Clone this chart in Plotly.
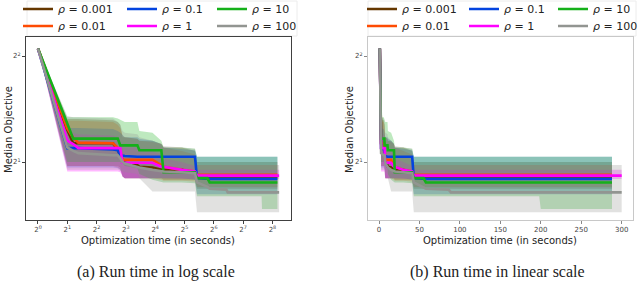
import plotly.graph_objects as go

# ---------------- data ----------------
T = [1, 2, 2.3, 2.6, 5.9, 6.6, 7.0, 7.4, 7.8, 10.5, 11, 15, 18.5, 19.5, 30, 41, 43, 55, 58, 86, 89, 198, 200, 288, 300]

rho_labels = ["0.001", "0.01", "0.1", "1", "10", "100"]
colors = ["#653700", "#fe4b03", "#0343df", "#ff00ff", "#15b01a", "#929591"]

med_0001 = [4.2, 2.47, 2.26, 2.26, 2.26, 2.16, 2.09, 2.03, 1.99, 1.96, 1.94, 1.93, 1.90, 1.90, 1.90, 1.87, 1.82, 1.82, 1.82, 1.82, 1.82, 1.82, 1.82, 1.82, None]
lo_0001 = [4.2, 1.95, 1.95, 1.95, 1.95, 1.95, 1.93, 1.82, 1.80, 1.80, 1.80, 1.80, 1.80, 1.78, 1.78, 1.78, 1.68, 1.68, 1.68, 1.68, 1.68, 1.68, 1.68, 1.68, None]
hi_0001 = [4.2, 2.65, 2.65, 2.65, 2.63, 2.60, 2.55, 2.35, 2.35, 2.33, 2.30, 2.30, 2.25, 2.20, 2.20, 2.15, 2.00, 2.00, 2.00, 2.00, 2.00, 2.00, 2.00, 2.00, None]

med_001 = [4.2, 2.49, 2.34, 2.27, 2.26, 2.19, 2.16, 2.03, 2.03, 2.03, 2.03, 2.03, 1.96, 1.94, 1.90, 1.88, 1.84, 1.84, 1.84, 1.84, 1.84, 1.84, 1.84, 1.84, None]
lo_001 = [4.2, 1.95, 1.95, 1.95, 1.95, 1.93, 1.90, 1.82, 1.80, 1.80, 1.80, 1.80, 1.78, 1.77, 1.77, 1.76, 1.70, 1.70, 1.70, 1.70, 1.70, 1.70, 1.70, 1.70, None]
hi_001 = [4.2, 2.62, 2.62, 2.62, 2.60, 2.55, 2.50, 2.38, 2.35, 2.33, 2.30, 2.28, 2.25, 2.20, 2.15, 2.10, 1.96, 1.96, 1.96, 1.96, 1.96, 1.96, 1.96, 1.96, None]

med_01 = [4.2, 2.19, 2.19, 2.19, 2.17, 2.16, 2.09, 2.09, 2.08, 2.07, 2.07, 2.07, 2.07, 2.07, 2.07, 2.07, 1.80, 1.79, 1.79, 1.79, 1.79, 1.79, 1.79, 1.79, None]
lo_01 = [4.2, 1.93, 1.93, 1.93, 1.93, 1.92, 1.90, 1.82, 1.80, 1.80, 1.80, 1.80, 1.80, 1.80, 1.80, 1.78, 1.62, 1.62, 1.62, 1.62, 1.62, 1.62, 1.62, 1.62, None]
hi_01 = [4.2, 2.50, 2.50, 2.50, 2.48, 2.45, 2.42, 2.38, 2.35, 2.35, 2.33, 2.30, 2.25, 2.20, 2.18, 2.16, 2.07, 2.07, 2.07, 2.07, 2.07, 2.07, 2.07, 2.07, None]

med_1 = [4.2, 2.30, 2.25, 2.19, 2.19, 2.19, 2.19, 1.99, 1.99, 1.99, 1.99, 1.99, 1.94, 1.94, 1.90, 1.88, 1.83, 1.83, 1.83, 1.83, 1.83, 1.83, 1.83, 1.83, 1.83]
lo_1 = [4.2, 1.88, 1.88, 1.88, 1.88, 1.88, 1.87, 1.82, 1.80, 1.80, 1.80, 1.80, 1.80, 1.80, 1.79, 1.79, 1.79, 1.79, 1.79, 1.79, 1.79, 1.79, 1.79, 1.79, 1.79]
hi_1 = [4.2, 2.45, 2.42, 2.40, 2.38, 2.35, 2.30, 2.20, 2.20, 2.20, 2.18, 2.15, 2.10, 2.05, 2.00, 1.95, 1.90, 1.90, 1.90, 1.90, 1.90, 1.90, 1.90, 1.90, 1.90]

med_10 = [4.2, 2.55, 2.33, 2.33, 2.33, 2.33, 2.23, 2.23, 2.23, 2.23, 2.16, 2.16, 2.16, 1.87, 1.87, 1.87, 1.80, 1.80, 1.75, 1.75, 1.75, 1.75, 1.75, 1.75, None]
lo_10 = [4.2, 2.00, 2.00, 2.00, 2.00, 2.00, 2.00, 1.98, 1.95, 1.92, 1.85, 1.78, 1.76, 1.75, 1.75, 1.74, 1.60, 1.60, 1.60, 1.60, 1.60, 1.60, 1.47, 1.47, None]
hi_10 = [4.2, 2.68, 2.68, 2.68, 2.68, 2.66, 2.64, 2.62, 2.60, 2.60, 2.45, 2.42, 2.30, 2.20, 2.20, 2.18, 2.07, 2.07, 2.07, 2.07, 2.07, 2.07, 2.07, 2.07, None]

med_100 = [4.2, 2.20, 2.15, 2.12, 2.09, 2.09, 2.05, 2.00, 1.98, 1.94, 1.93, 1.90, 1.89, 1.88, 1.87, 1.86, 1.75, 1.70, 1.68, 1.67, 1.64, 1.64, 1.64, 1.64, 1.64]
lo_100 = [4.2, 1.90, 1.90, 1.90, 1.90, 1.90, 1.89, 1.88, 1.87, 1.85, 1.80, 1.65, 1.65, 1.65, 1.65, 1.65, 1.44, 1.44, 1.44, 1.44, 1.44, 1.44, 1.44, 1.44, 1.44]
hi_100 = [4.2, 2.70, 2.68, 2.68, 2.66, 2.60, 2.55, 2.45, 2.42, 2.40, 2.35, 2.30, 2.25, 2.22, 2.20, 2.18, 1.96, 1.96, 1.96, 1.96, 1.96, 1.96, 1.96, 1.96, 1.96]

meds = [med_0001, med_001, med_01, med_1, med_10, med_100]
los = [lo_0001, lo_001, lo_01, lo_1, lo_10, lo_100]
his = [hi_0001, hi_001, hi_01, hi_1, hi_10, hi_100]

log_xticks = [1, 2, 4, 8, 16, 32, 64, 128, 256]
log_xtext = ["2<sup>%d</sup>" % k for k in range(9)]
lin_xticks = [0, 50, 100, 150, 200, 250, 300]
yticks = [2, 4]
ytext = ["2<sup>1</sup>", "2<sup>2</sup>"]


def trim(t, v):
    pairs = [(a, b) for a, b in zip(t, v) if b is not None]
    return [p[0] for p in pairs], [p[1] for p in pairs]


def rgba(hexc, a):
    h = hexc.lstrip("#")
    return "rgba(%d,%d,%d,%.2f)" % (int(h[0:2], 16), int(h[2:4], 16), int(h[4:6], 16), a)


def legname(k):
    return "legend" if k == 0 else "legend%d" % (k + 1)


fig = go.Figure()
W, H = 640, 282
FONT = "DejaVu Sans"

for sub, (xa, ya) in enumerate([("x", "y"), ("x2", "y2")]):
    for i in range(6):
        tx, lo = trim(T, los[i])
        _, hi = trim(T, his[i])
        fig.add_trace(go.Scatter(x=tx, y=lo, xaxis=xa, yaxis=ya, mode="lines",
                                 line=dict(width=0, color=colors[i]), showlegend=False, hoverinfo="skip"))
        fig.add_trace(go.Scatter(x=tx, y=hi, xaxis=xa, yaxis=ya, mode="lines", fill="tonexty",
                                 fillcolor=rgba(colors[i], 0.28),
                                 line=dict(width=0, color=colors[i]), showlegend=False, hoverinfo="skip"))
    for i in range(6):
        tx, md = trim(T, meds[i])
        fig.add_trace(go.Scatter(x=tx, y=md, xaxis=xa, yaxis=ya, mode="lines",
                                 line=dict(width=2.6, color=colors[i]),
                                 name="<i>ρ</i> = " + rho_labels[i], legend=legname(sub * 6 + i),
                                 showlegend=True))

ydom = [1 - 220 / H, 1 - 37 / H]
yrange = [0.1364, 0.656]
axis_common = dict(showline=True, mirror=True, linewidth=1, showgrid=False, zeroline=False,
                   ticks="outside", ticklen=3, tickwidth=1, tickfont=dict(family=FONT, size=7, color="#444"))

fig.update_layout(
    width=W, height=H, margin=dict(l=0, r=0, t=0, b=0, autoexpand=False),
    paper_bgcolor="white", plot_bgcolor="white",
    font=dict(family=FONT, color="#222"),
    xaxis=dict(domain=[26 / W, 291 / W], type="log", range=[-0.123, 2.599], tickvals=log_xticks,
               ticktext=log_xtext, linecolor="#404040", tickcolor="#404040", anchor="y", **axis_common),
    yaxis=dict(domain=ydom, type="log", range=yrange, tickvals=yticks, ticktext=ytext,
               linecolor="#404040", tickcolor="#404040", anchor="x", **axis_common),
    xaxis2=dict(domain=[368 / W, 633 / W], type="linear", range=[-13.6, 314], tickvals=lin_xticks,
                linecolor="#c8c8c8", tickcolor="#888", anchor="y2", **axis_common),
    yaxis2=dict(domain=ydom, type="log", range=yrange, tickvals=yticks, ticktext=ytext,
                linecolor="#c8c8c8", tickcolor="#888", anchor="x2", **axis_common),
)

# one legend per entry: 3 columns x 2 rows above each subplot
col_x = [[18, 122, 212], [362, 464, 553]]
row_y = [9, 26]
legs = {}
for sub in range(2):
    for i in range(6):
        legs[legname(sub * 6 + i)] = dict(
            x=col_x[sub][i // 2] / W, y=1 - row_y[i % 2] / H, xanchor="left", yanchor="middle",
            orientation="v", bgcolor="rgba(255,255,255,0)", borderwidth=0,
            font=dict(family=FONT, size=11, color="#222"))
fig.update_layout(**legs)

for x0, x1 in [(27, 297), (368, 636)]:
    fig.add_shape(type="rect", xref="paper", yref="paper", x0=x0 / W, x1=x1 / W,
                  y0=1 - 36 / H, y1=1 - 1 / H, line=dict(color="#ececec", width=1),
                  fillcolor="rgba(255,255,255,0)", layer="below")

ann = []
ann.append(dict(text="Median Objective", x=8 / W, y=1 - 130 / H, textangle=-90))
ann.append(dict(text="Median Objective", x=349 / W, y=1 - 130 / H, textangle=-90))
ann.append(dict(text="Optimization time (in seconds)", x=158 / W, y=1 - 240 / H))
ann.append(dict(text="Optimization time (in seconds)", x=500 / W, y=1 - 240 / H))
for a in ann:
    a.update(xref="paper", yref="paper", showarrow=False, xanchor="center", yanchor="middle",
             font=dict(family=FONT, size=10, color="#222"))
ann.append(dict(text="(a) Run time in log scale", x=155.5 / W, y=1 - 272 / H, xref="paper", yref="paper",
                showarrow=False, xanchor="center", yanchor="middle",
                font=dict(family="Liberation Serif", size=16, color="#222")))
ann.append(dict(text="(b) Run time in linear scale", x=497 / W, y=1 - 272 / H, xref="paper", yref="paper",
                showarrow=False, xanchor="center", yanchor="middle",
                font=dict(family="Liberation Serif", size=16, color="#222")))
fig.update_layout(annotations=ann)

fig.write_html("out.html", config={"displayModeBar": False},
               post_script="document.body.style.margin='0';document.body.style.overflow='hidden';")
